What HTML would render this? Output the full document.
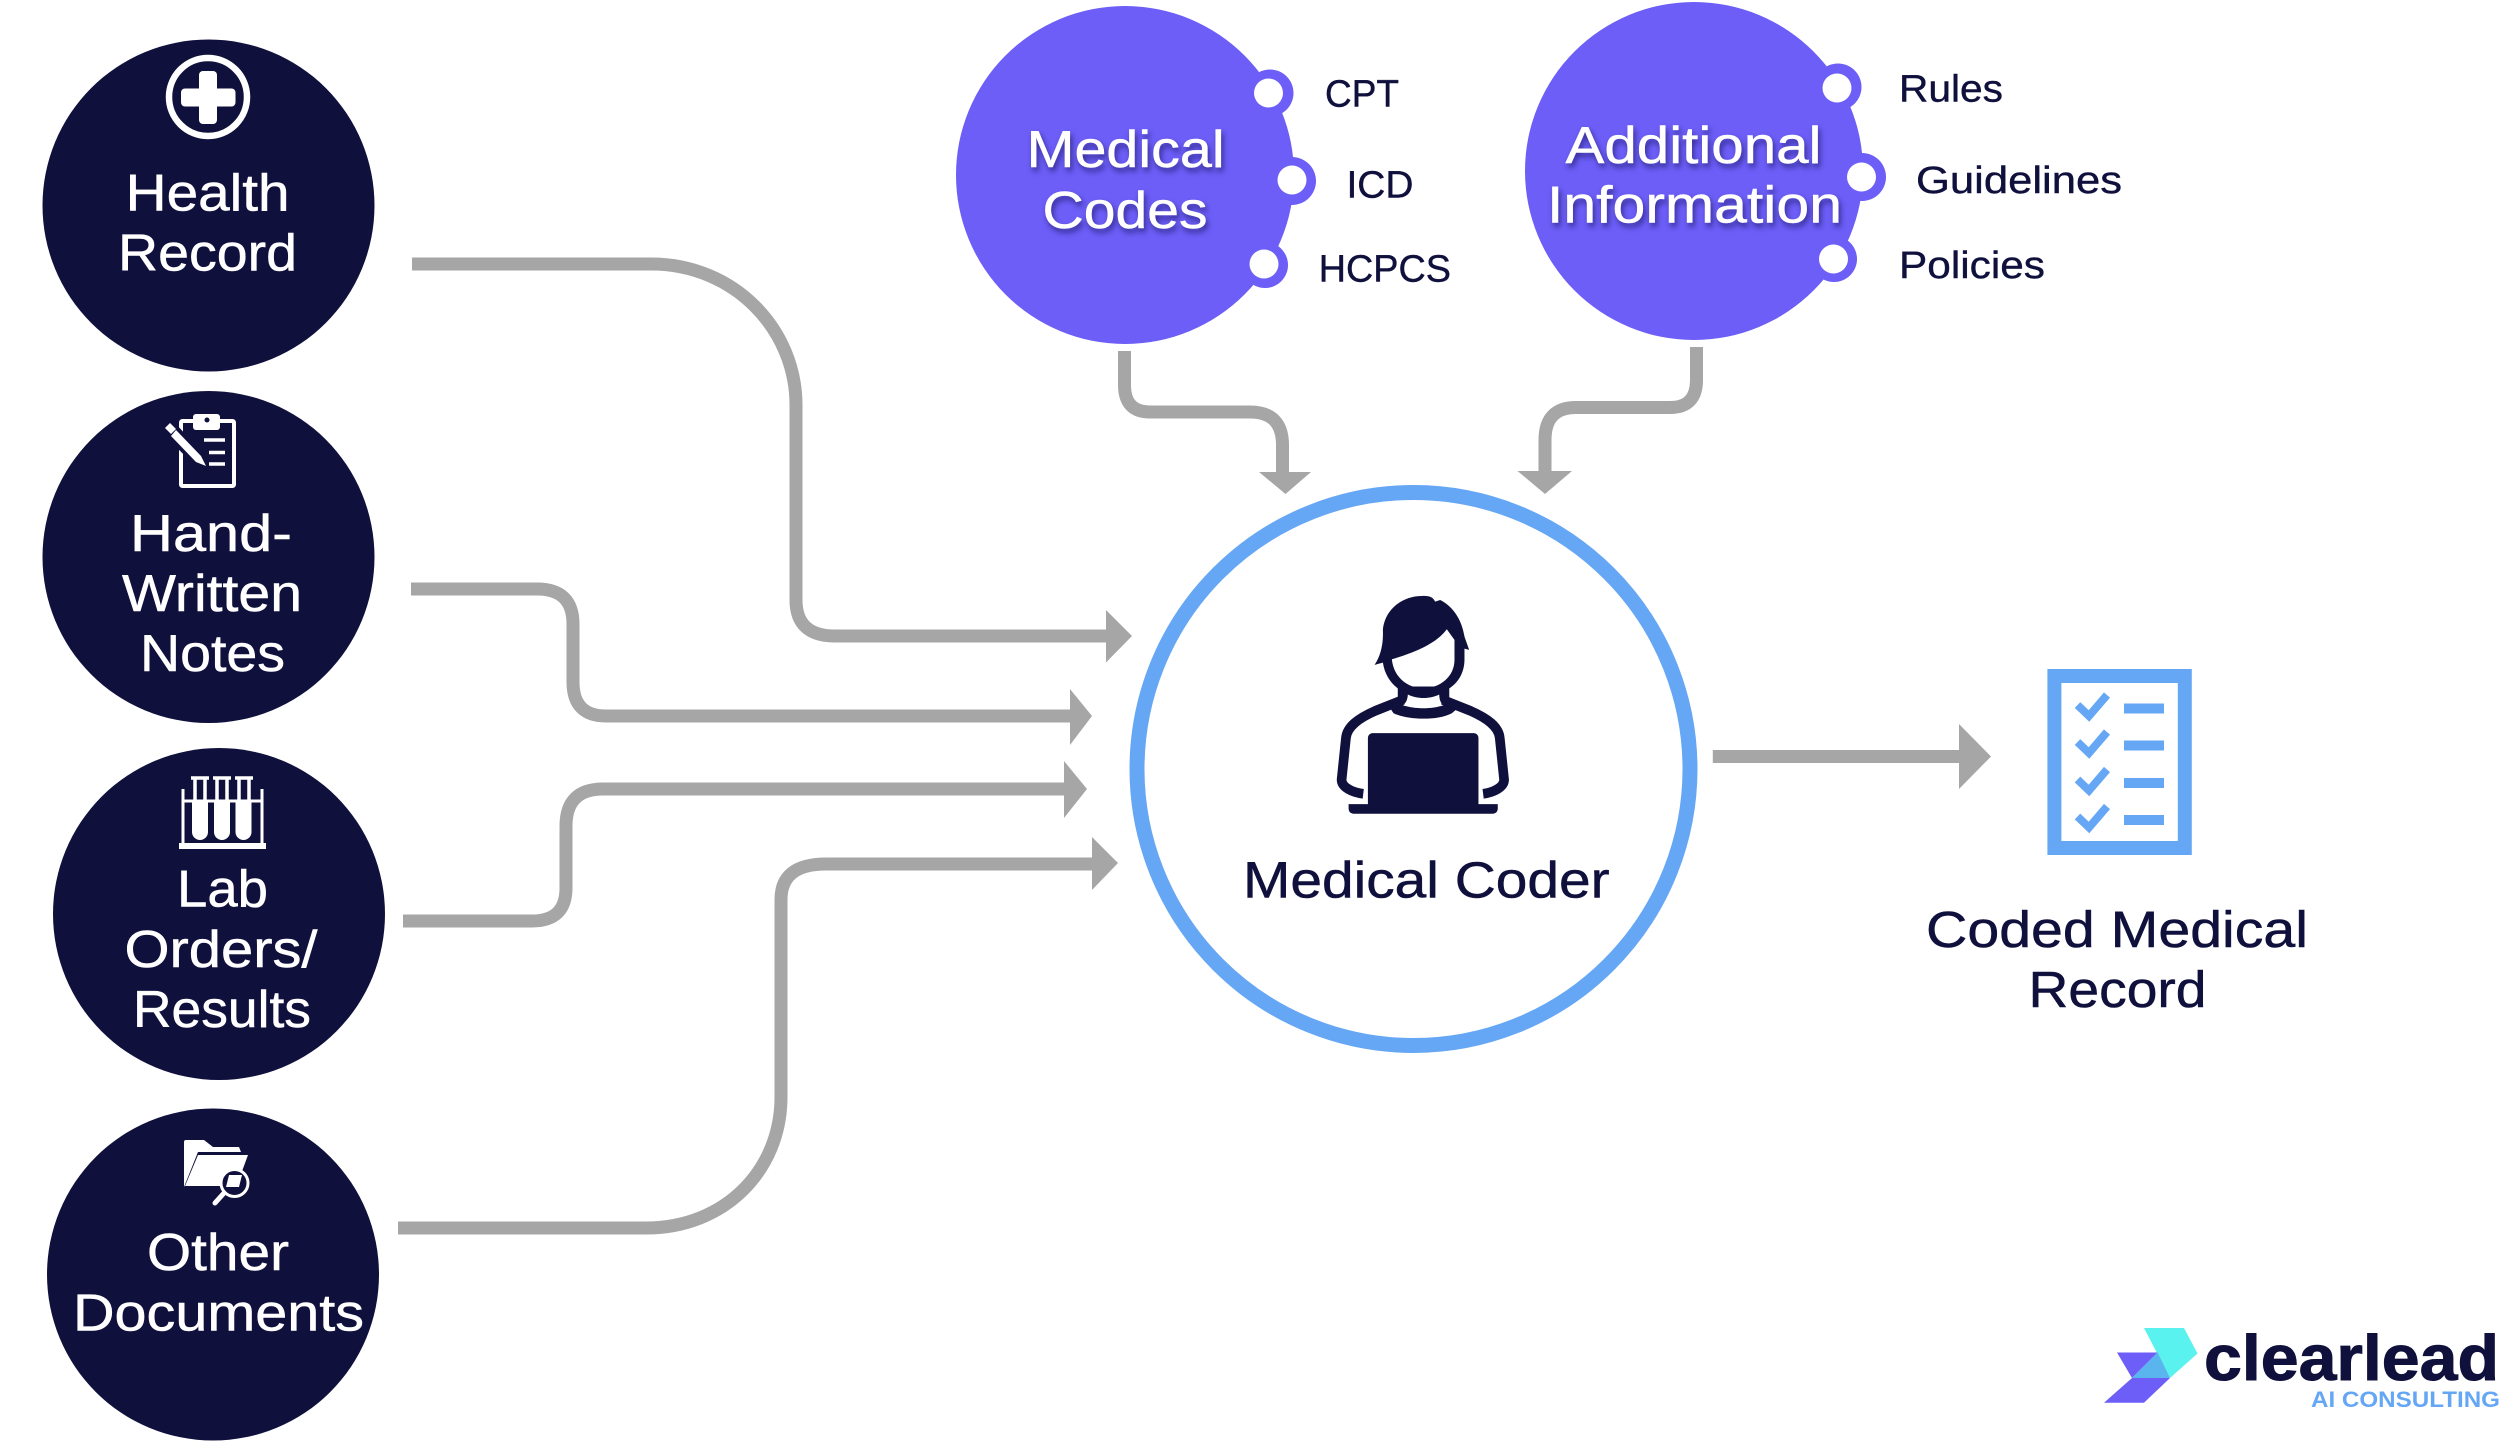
<!DOCTYPE html>
<html><head><meta charset="utf-8"><title>Medical Coding Diagram</title>
<style>
html,body{margin:0;padding:0;background:#fff;width:2500px;height:1442px;overflow:hidden}
svg{display:block}
text{font-family:"Liberation Sans",sans-serif}
.w{fill:#fff;font-size:52px;stroke:#fff;stroke-width:.5}
.n{fill:#10103d;font-size:51px;stroke:#10103d;stroke-width:.5}
.s{fill:#10103d;font-size:38px;stroke:#10103d;stroke-width:.4}
.sh{filter:drop-shadow(2px 4px 3px rgba(10,5,70,.55))}
.c{fill:none;stroke:#a6a6a6;stroke-width:13}
</style></head><body>
<svg width="2500" height="1442" viewBox="0 0 2500 1442" xmlns="http://www.w3.org/2000/svg">
<rect width="2500" height="1442" fill="#fff"/>

<!-- connectors -->
<g class="c">
<path d="M412 264H651C735 264 796 330 796 405V600Q796 636 835 636H1110"/>
<path d="M411 589H537Q573 589 573 624V682Q573 716 606 716H1075"/>
<path d="M403 921H532Q566 921 566 888V826Q566 789 603 789H1068"/>
<path d="M398 1228H646C725 1228 781 1170 781 1097V899.500Q781 864 826 864H1095"/>
<path d="M1712.800 756.500H1962"/>
<path d="M1124.500 351V385Q1124.500 412 1150 412H1250Q1282.500 412 1282.500 445V475"/>
<path d="M1696.500 347V380Q1696.500 407.500 1670 407.500H1576Q1545 407.500 1545 440V475"/>
</g>
<g fill="#a6a6a6">
<polygon points="1106,610 1132,636 1106,662.500"/>
<polygon points="1070,689 1092,716 1070,745"/>
<polygon points="1064,761 1087,789 1064,818"/>
<polygon points="1092,837 1118,863 1092,890"/>
<polygon points="1959,724 1991,756.500 1959,789"/>
<polygon points="1259,472 1311,472 1285.500,494"/>
<polygon points="1517.500,471 1572,471 1545,494"/>
</g>

<!-- source circles -->
<g fill="#10103d">
<circle cx="208.500" cy="205.500" r="166"/>
<circle cx="208.500" cy="557" r="166"/>
<circle cx="219" cy="914" r="166"/>
<circle cx="213" cy="1274.500" r="166"/>
</g>
<text class="w" x="125.600" y="210.500" textLength="164" lengthAdjust="spacingAndGlyphs">Health</text>
<text class="w" x="118" y="270.500" textLength="179" lengthAdjust="spacingAndGlyphs">Record</text>
<text class="w" x="130" y="551" textLength="162" lengthAdjust="spacingAndGlyphs">Hand-</text>
<text class="w" x="122" y="611" textLength="180" lengthAdjust="spacingAndGlyphs">Written</text>
<text class="w" x="140" y="671" textLength="145" lengthAdjust="spacingAndGlyphs">Notes</text>
<text class="w" x="177" y="906.500" textLength="91" lengthAdjust="spacingAndGlyphs">Lab</text>
<text class="w" x="124.500" y="967" textLength="193" lengthAdjust="spacingAndGlyphs">Orders/</text>
<text class="w" x="133" y="1027" textLength="178" lengthAdjust="spacingAndGlyphs">Results</text>
<text class="w" x="147" y="1270" textLength="142" lengthAdjust="spacingAndGlyphs">Other</text>
<text class="w" x="73" y="1330.500" textLength="291" lengthAdjust="spacingAndGlyphs">Documents</text>

<!-- health icon -->
<circle cx="208" cy="97" r="39" fill="none" stroke="#fff" stroke-width="6.500"/>
<rect x="199" y="71" width="18" height="53" rx="4" fill="#fff"/>
<rect x="181" y="88.500" width="54.500" height="18" rx="4" fill="#fff"/>

<!-- clipboard icon -->
<rect x="181" y="421" width="53" height="65" rx="1.500" fill="none" stroke="#fff" stroke-width="4"/>
<rect x="193" y="414" width="27" height="16" rx="3" fill="#fff"/>
<circle cx="207" cy="420" r="2.500" fill="#10103d"/>
<path d="M204 440H225M209 452.500H225M209 464H225" stroke="#fff" stroke-width="3.500"/>
<path d="M176 427L202 455L208 468L195 463L168 436Z" fill="#10103d" stroke="#10103d" stroke-width="4"/>
<path d="M176 430L201 456L206 466L196 462L171 436Z" fill="#fff"/>
<path d="M165 428L170 423L176 429L171 434Z" fill="#fff"/>

<!-- lab icon -->
<rect x="179" y="843" width="87" height="6" fill="#fff"/>
<path d="M183 789V843M262 789V843M183 801H262" stroke="#fff" stroke-width="3" fill="none"/>
<g fill="#fff">
<path d="M192 801H208V832a8 8 0 0 1-16 0Z"/>
<path d="M214 801H230V832a8 8 0 0 1-16 0Z"/>
<path d="M235.500 801H251.500V832a8 8 0 0 1-16 0Z"/>
</g>
<path d="M191 778H209M195 778V801M205 778V801M213 778H231M217 778V801M227 778V801M235 778H253M239 778V801M249 778V801" stroke="#fff" stroke-width="3.500" fill="none"/>

<!-- folder icon -->
<path d="M184 1142Q184 1140 186 1140H204L213 1147H239L241 1152H198L184 1187Z" fill="#fff"/>
<path d="M198 1155H248L241 1174L234 1168L222 1186H185Z" fill="#fff"/>
<circle cx="234.500" cy="1183" r="13.500" fill="#10103d" stroke="#fff" stroke-width="3"/>
<path d="M229 1175H242L239 1187H226Z" fill="#fff"/>
<path d="M224 1193L215 1203" stroke="#fff" stroke-width="5" stroke-linecap="round"/>

<!-- top circles -->
<g fill="#6c5ef7">
<circle cx="1125" cy="175" r="169"/>
<circle cx="1694" cy="171" r="169"/>
<circle cx="1270" cy="93" r="23.500"/>
<circle cx="1292" cy="181" r="24"/>
<circle cx="1265" cy="265" r="23"/>
<circle cx="1838" cy="87" r="23.500"/>
<circle cx="1862" cy="177" r="24"/>
<circle cx="1834" cy="259" r="23"/>
</g>
<g fill="#fff">
<circle cx="1268.500" cy="93" r="14.500"/>
<circle cx="1292" cy="180" r="14.500"/>
<circle cx="1264" cy="264" r="14.500"/>
<circle cx="1837" cy="88" r="14.500"/>
<circle cx="1861.500" cy="177" r="14.500"/>
<circle cx="1833.500" cy="259" r="14.500"/>
</g>
<g class="sh">
<text class="w" x="1026.600" y="167" textLength="198" lengthAdjust="spacingAndGlyphs">Medical</text>
<text class="w" x="1042.500" y="228" textLength="165" lengthAdjust="spacingAndGlyphs">Codes</text>
<text class="w" x="1565.500" y="163" textLength="256" lengthAdjust="spacingAndGlyphs">Additional</text>
<text class="w" x="1547" y="222.500" textLength="295" lengthAdjust="spacingAndGlyphs">Information</text>
</g>
<text class="s" x="1325" y="106.700" textLength="74" lengthAdjust="spacingAndGlyphs">CPT</text>
<text class="s" x="1346.500" y="197.700" textLength="67" lengthAdjust="spacingAndGlyphs">ICD</text>
<text class="s" x="1318.700" y="281.700" textLength="132.300" lengthAdjust="spacingAndGlyphs">HCPCS</text>
<text class="s" x="1899" y="101.700" textLength="104" lengthAdjust="spacingAndGlyphs">Rules</text>
<text class="s" x="1916" y="193" textLength="206" lengthAdjust="spacingAndGlyphs">Guidelines</text>
<text class="s" x="1899" y="278" textLength="146" lengthAdjust="spacingAndGlyphs">Policies</text>

<!-- medical coder -->
<circle cx="1413.500" cy="769" r="276.500" fill="#fff" stroke="#66a7f5" stroke-width="15"/>
<g transform="translate(1272 570) scale(.333)">
<path fill="#10103d" d="M308 285C325 260 335 225 333 180C338 120 390 78 450 78C475 77 483 82 490 95L505 90C545 110 570 150 578 200L592 240L578 236V270C578 300 565 335 532 356V384H378V356C352 335 338 310 333 278Z"/>
<path fill="#fff" d="M360 268C420 250 490 225 525 178L548 210V270C548 320 505 355 455 355C405 355 365 320 360 268Z"/>
<path fill="#10103d" d="M378 350H532V395L552 420L540 430C500 452 410 452 365 430L358 420L378 395Z"/>
<path fill="#fff" d="M408 374C435 388 475 388 502 374C503 390 506 400 515 406C480 418 430 418 393 406C402 400 407 390 408 374Z"/>
<g fill="none" stroke="#10103d" stroke-width="29">
<path d="M393 390L310 423C260 445 225 470 222 505L209 630C209 652 240 668 274 672"/>
<path d="M513 390L596 423C646 445 681 470 684 505L697 630C697 652 666 668 634 672"/>
</g>
<rect x="288" y="490" width="332" height="225" rx="14" fill="#10103d"/>
<path fill="#10103d" d="M230 703H678V715Q678 732 660 732H248Q230 732 230 715Z"/>
</g>
<text class="n" x="1243" y="897.500" textLength="366.600" lengthAdjust="spacingAndGlyphs">Medical Coder</text>

<!-- coded record -->
<rect x="2054.400" y="676" width="130.400" height="172" fill="#fff" stroke="#66a7f5" stroke-width="14"/>
<g fill="#66a7f5">
<rect x="2124" y="703.500" width="40" height="10"/>
<rect x="2124" y="740.500" width="40" height="10"/>
<rect x="2124" y="778" width="40" height="10"/>
<rect x="2124" y="815" width="40" height="10"/>
</g>
<g fill="none" stroke="#66a7f5" stroke-width="8">
<path d="M2077.500 705L2089 716L2107 695"/>
<path d="M2077.500 742L2089 753L2107 732"/>
<path d="M2077.500 779.500L2089 790.500L2107 769.500"/>
<path d="M2077.500 816.500L2089 827.500L2107 806.500"/>
</g>
<text class="n" x="1926" y="947" textLength="382" lengthAdjust="spacingAndGlyphs">Coded Medical</text>
<text class="n" x="2028.500" y="1007" textLength="178" lengthAdjust="spacingAndGlyphs">Record</text>

<!-- logo -->
<polygon points="2144,1328 2184,1328 2197.500,1353.500 2170,1378" fill="#5af2ee"/>
<polygon points="2117,1352.500 2157.600,1352.500 2132,1378" fill="#6c5ef7"/>
<polygon points="2157.600,1352.500 2170,1378 2132,1378" fill="#5ab4ee"/>
<polygon points="2132,1378 2170,1378 2144,1402.700 2104,1402.700" fill="#6c5ef7"/>
<text x="2204" y="1380" fill="#10103d" stroke="#10103d" stroke-width="1" font-size="64" font-weight="bold" textLength="295" lengthAdjust="spacingAndGlyphs">clearlead</text>
<text x="2311" y="1407" fill="#66a7f5" font-size="22" font-weight="bold" textLength="189" lengthAdjust="spacingAndGlyphs">AI CONSULTING</text>
</svg>
</body></html>
